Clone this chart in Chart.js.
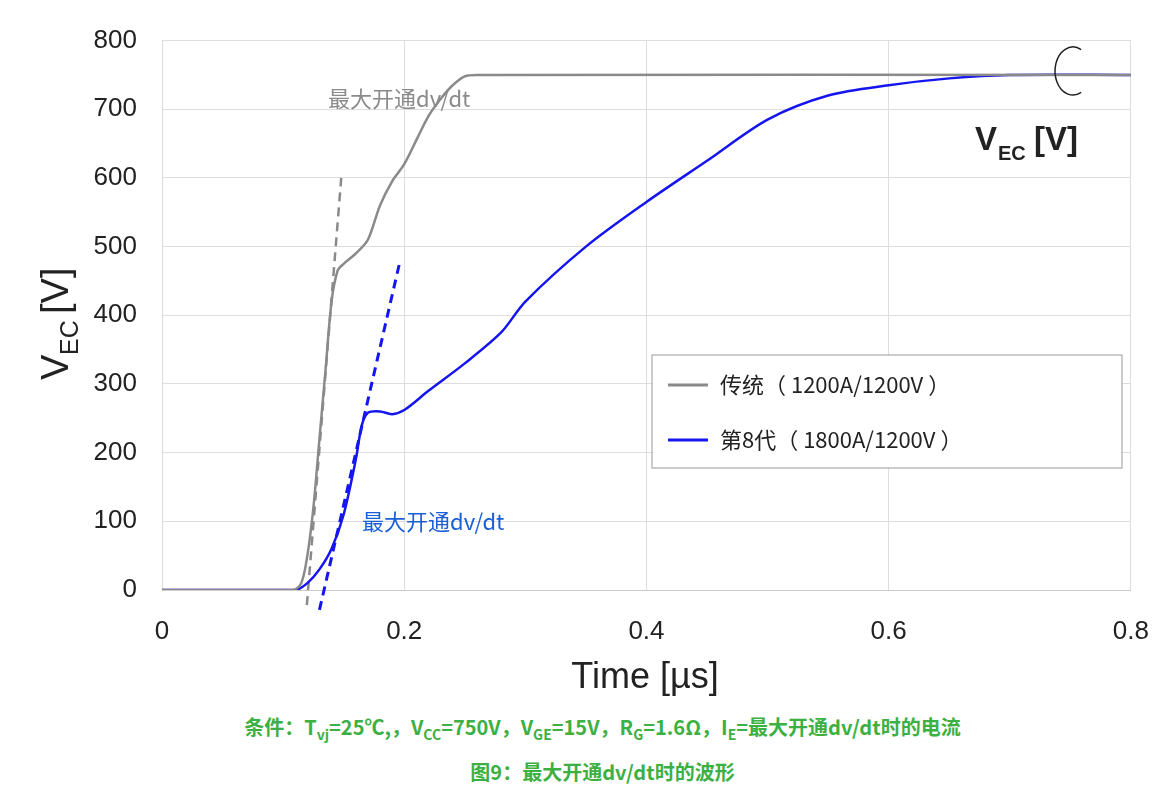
<!DOCTYPE html><html><head><meta charset="utf-8">
<script src="https://cdn.jsdelivr.net/npm/chart.js@4"></script>
<style>body{margin:0;background:#fff;font-family:"Noto Sans CJK SC",Arial,sans-serif}
#w{width:1175px;height:700px}.cap{text-align:center;color:#3cb043;font-weight:bold;font-size:20px;width:1175px;padding-left:30px;box-sizing:border-box;line-height:26px}sub{font-size:14px}</style></head><body>
<div id="w"><canvas id="c"></canvas></div>
<div class="cap" style="margin-top:14px">条件：T<sub>vj</sub>=25℃,，V<sub>CC</sub>=750V，V<sub>GE</sub>=15V，R<sub>G</sub>=1.6Ω，I<sub>E</sub>=最大开通dv/dt时的电流</div>
<div class="cap" style="margin-top:12px">图9：最大开通dv/dt时的波形</div>
<script>
const grayT=[0,0.108,0.115,0.12,0.125,0.13,0.135,0.14,0.145,0.15,0.16,0.17,0.18,0.19,0.2,0.21,0.22,0.23,0.24,0.25,0.26,0.8];
const grayV=[0,0,10,50,120,220,320,420,465,475,490,510,560,595,620,655,690,715,735,748,750,750];
const blueT=[0,0.11,0.12,0.13,0.14,0.15,0.16,0.165,0.17,0.18,0.19,0.2,0.22,0.25,0.28,0.3,0.35,0.4,0.45,0.5,0.55,0.6,0.65,0.7,0.8];
const blueV=[0,0,10,30,60,110,190,240,258,260,256,262,290,330,375,420,500,565,625,685,720,735,745,750,750];
const grayDashT=[0.1196,0.148],grayDashV=[-22,600];
const blueDashT=[0.130,0.196],blueDashV=[-29,475];
const xTicks=[0,0.2,0.4,0.6,0.8];
const legendLabels=['传统（ 1200A/1200V ）','第8代（ 1800A/1200V ）'];
const pts=(t,v)=>t.map((x,i)=>({x,y:v[i]}));
const GRAY='#8a8a8a',BLUE='#1515f0';
const deco={id:'deco',afterDraw(ch){const c=ch.ctx;c.save();
c.fillStyle='#222';c.font='36px Arial';c.textAlign='center';c.fillText('Time [µs]',645,688);
c.save();c.translate(68,312);c.rotate(-Math.PI/2);c.textAlign='left';c.font='38px Arial';
c.fillText('V',-68,0);c.font='25px Arial';c.fillText('EC',-43,10);c.font='38px Arial';c.fillText('[V]',-2,0);c.restore();
c.font='bold 33px Arial';c.textAlign='left';c.fillText('V',975,150);c.font='bold 20px Arial';c.fillText('EC',998,160);c.font='bold 33px Arial';c.fillText('[V]',1034,150);
c.strokeStyle='#222';c.lineWidth=1.5;c.beginPath();c.ellipse(1073,71,18,24,0,Math.PI*0.35,Math.PI*1.65,false);c.stroke();
c.font='22px "Noto Sans CJK SC"';c.fillStyle=GRAY;c.fillText('最大开通dv/dt',328,107);c.fillStyle='#1a5fd6';c.fillText('最大开通dv/dt',362,530);
c.fillStyle='#fff';c.strokeStyle='#999';c.lineWidth=1;c.fillRect(652,355,470,113);c.strokeRect(652,355,470,113);
c.lineWidth=3;c.strokeStyle=GRAY;c.beginPath();c.moveTo(668,385);c.lineTo(708,385);c.stroke();
c.strokeStyle=BLUE;c.beginPath();c.moveTo(668,440);c.lineTo(708,440);c.stroke();
c.fillStyle='#222';c.font='22px "Noto Sans CJK SC"';c.fillText(legendLabels[0],720,393);c.fillText(legendLabels[1],720,448);
c.restore();}};
new Chart(document.getElementById('c'),{type:'scatter',data:{datasets:[
{data:pts(grayT,grayV),showLine:true,borderColor:GRAY,borderWidth:2.5,pointRadius:0,tension:0.3},
{data:pts(blueT,blueV),showLine:true,borderColor:BLUE,borderWidth:2.5,pointRadius:0,tension:0.3},
{data:pts(grayDashT,grayDashV),showLine:true,borderColor:GRAY,borderWidth:2.5,borderDash:[9,6],pointRadius:0,clip:false},
{data:pts(blueDashT,blueDashV),showLine:true,borderColor:BLUE,borderWidth:3,borderDash:[9,6],pointRadius:0,clip:false}]},
options:{responsive:true,maintainAspectRatio:false,animation:false,layout:{padding:{top:37,right:43}},
plugins:{legend:{display:false},tooltip:{enabled:false}},
scales:{x:{type:'linear',min:0,max:0.8,afterFit(s){s.height=110},afterBuildTicks(s){s.ticks=xTicks.map(v=>({value:v}))},ticks:{color:'#222',font:{size:26,family:'Arial'},padding:26,callback:v=>v===0?'0':v.toFixed(1)},grid:{color:'#ddd',drawTicks:false},border:{color:'#ccc'}},
y:{min:0,max:800,afterFit(s){s.width=162},ticks:{stepSize:100,color:'#222',font:{size:26,family:'Arial'},padding:25},grid:{color:'#ddd',drawTicks:false},border:{display:false}}}},
plugins:[deco]});
</script></body></html>
